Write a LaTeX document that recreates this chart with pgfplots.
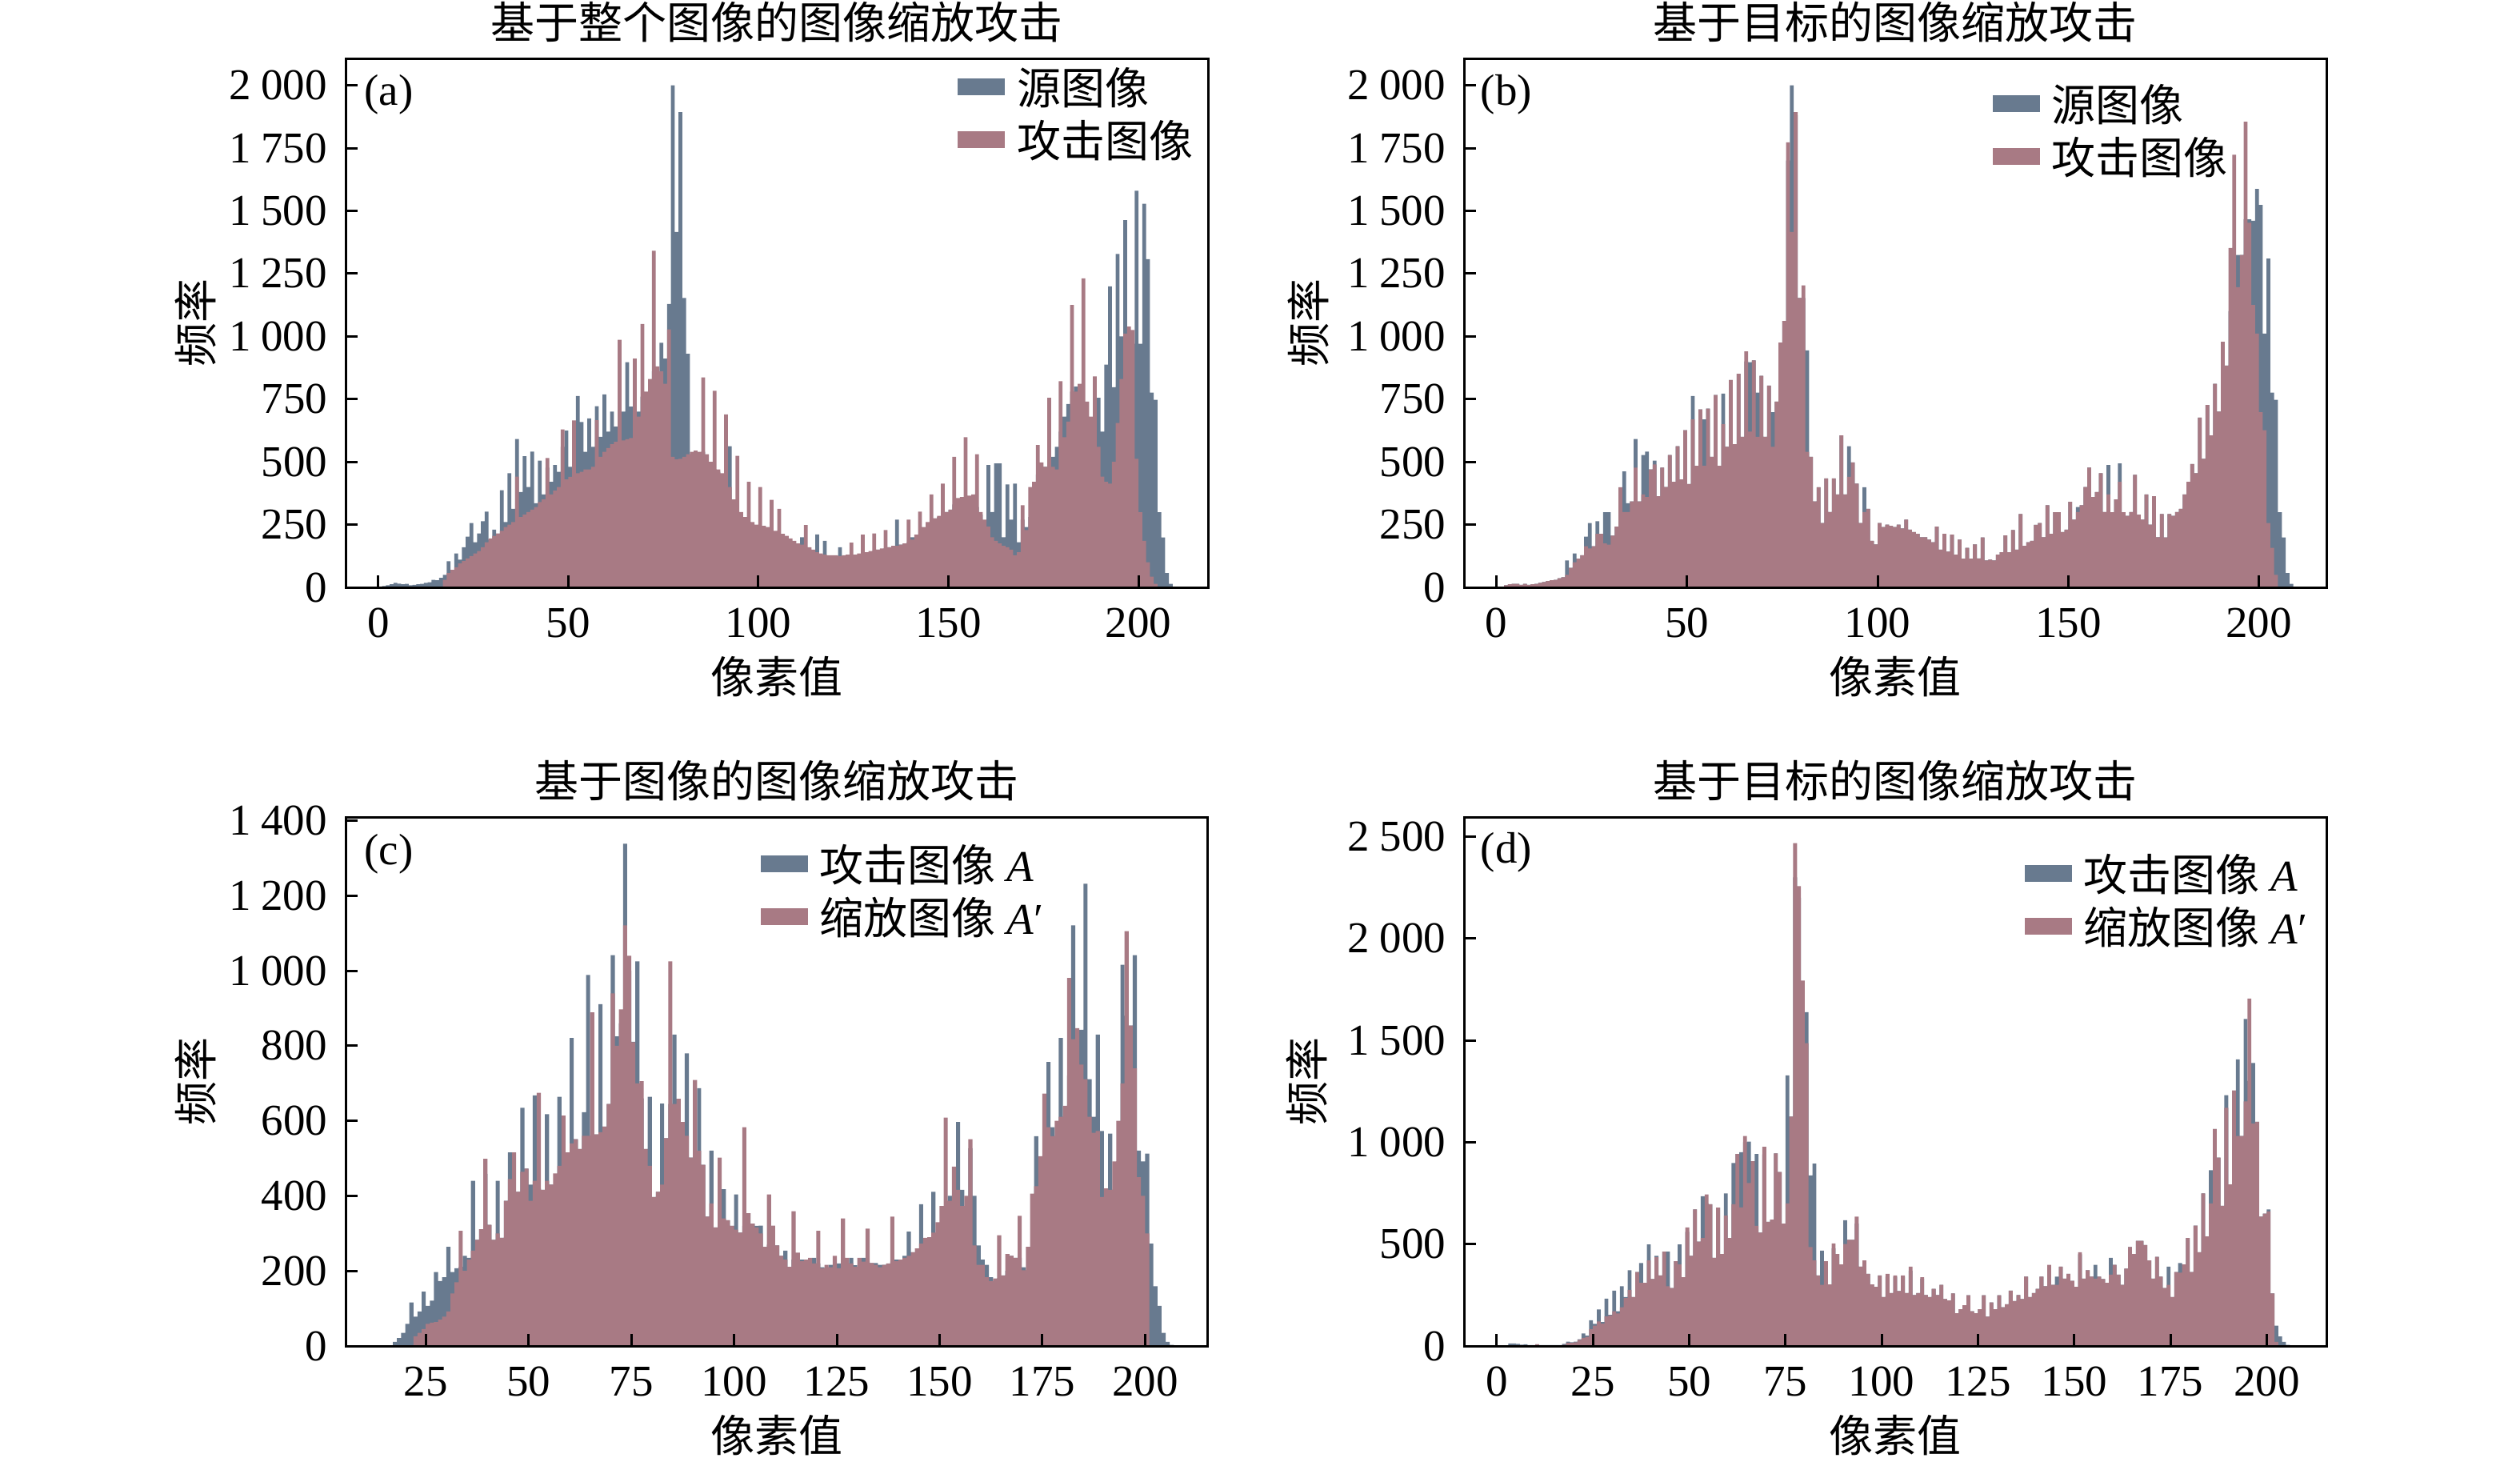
\documentclass[border=0pt]{standalone}
\usepackage{fontspec}
\setmainfont{Liberation Serif}
\newfontfamily\cjk{Noto Sans CJK SC}
\usepackage{pgfplots}
\pgfplotsset{compat=1.18}
\definecolor{cblue}{HTML}{687A8F}
\definecolor{cpink}{HTML}{A87A84}
\newcommand{\hist}[2]{\addplot[const plot mark left, fill=#1, draw=none] table[x expr=\coordindex, y index=0, header=false, row sep=\\] {#2} \closedcycle;}
\pgfplotsset{
  histax/.style={
    scale only axis, width=215.6pt, height=132.2pt,
    axis on top, tick align=inside, xtick pos=lower, ytick pos=left,
    major tick length=3pt,
    axis line style={line width=0.6pt},
    every tick/.style={black, line width=0.6pt},
    ymin=0, scaled y ticks=false,
    /pgf/number format/assume math mode=true,
    /pgf/number format/1000 sep={\hspace{0.22em}},
    yticklabel style={anchor=east, inner sep=0pt, xshift=-4.4pt},
    xticklabel style={anchor=north, inner sep=0pt, yshift=-5pt},
    title style={at={(0.5,1)}, anchor=center, yshift=3pt, inner sep=0pt},
    xlabel style={at={(axis description cs:0.5,0)}, anchor=center, yshift=-22.4pt},
    legend style={draw=none, fill=none, anchor=north west, inner sep=0pt, outer sep=0pt,
      column sep=3pt, row sep=2.2pt, nodes={inner sep=0pt, text height=8.5pt, text depth=2.5pt}},
    legend cell align=left,
    legend image code/.code={\fill[#1] (0pt,-0.7pt) rectangle (11.8pt,3.5pt);},
  }
}
\begin{document}
\begin{tikzpicture}[font=\fontsize{11pt}{13pt}\selectfont]
\path[use as bounding box] (0,0) rectangle (630pt,365.2pt);

% ---------------- (a)
\begin{axis}[histax, at={(86.4pt,218.4pt)}, anchor=south west,
  xmin=-8.6, xmax=218.3, ymax=2107,
  xtick={0,50,100,150,200}, ytick={0,250,500,750,1000,1250,1500,1750,2000},
  title={\cjk 基于整个图像的图像缩放攻击}, xlabel={\cjk 像素值}, ylabel={\cjk 频率},
  ylabel style={at={(axis description cs:-0.1744,0.5)}, anchor=center},
  legend style={at={(0.7097,0.978)}}]
\hist{cblue}{0\\5\\8\\12\\18\\15\\12\\14\\8\\10\\
12\\14\\18\\20\\30\\28\\38\\50\\104\\70\\
135\\110\\160\\202\\256\\180\\215\\263\\302\\190\\
230\\213\\387\\260\\455\\313\\591\\380\\522\\400\\
541\\335\\505\\370\\477\\420\\487\\460\\560\\624\\
480\\500\\762\\659\\540\\673\\560\\722\\600\\769\\
620\\700\\640\\849\\700\\897\\720\\776\\700\\760\\
760\\820\\860\\800\\974\\911\\1129\\2000\\1416\\1893\\
1153\\930\\520\\540\\520\\540\\500\\480\\470\\460\\
440\\420\\562\\330\\300\\290\\270\\260\\250\\240\\
240\\230\\225\\215\\210\\205\\195\\185\\175\\165\\
160\\200\\150\\140\\135\\211\\130\\185\\125\\125\\
120\\160\\120\\125\\125\\130\\130\\135\\140\\140\\
145\\150\\150\\155\\160\\165\\270\\170\\175\\180\\
200\\200\\210\\230\\250\\260\\270\\280\\290\\300\\
310\\330\\340\\350\\355\\350\\340\\320\\290\\260\\
487\\300\\494\\494\\200\\410\\270\\413\\180\\270\\
240\\280\\380\\450\\480\\480\\470\\520\\560\\620\\
680\\730\\780\\800\\780\\720\\650\\560\\500\\755\\
620\\887\\1199\\797\\1328\\1000\\1463\\980\\970\\1580\\
970\\1528\\1307\\776\\747\\299\\199\\57\\14\\0\\0\\}
\addlegendentry{\cjk 源图像}
\hist{cpink}{0\\0\\0\\0\\0\\0\\0\\0\\0\\0\\
0\\0\\0\\0\\0\\0\\0\\30\\57\\70\\
80\\95\\105\\115\\125\\135\\145\\160\\180\\195\\
205\\215\\225\\240\\250\\260\\441\\280\\290\\300\\
310\\320\\340\\350\\515\\370\\385\\400\\629\\430\\
440\\665\\455\\460\\470\\470\\480\\666\\520\\540\\
555\\570\\580\\986\\585\\590\\595\\911\\680\\1049\\
780\\830\\1341\\880\\860\\811\\1028\\520\\510\\512\\
520\\530\\540\\545\\540\\836\\530\\500\\783\\470\\
455\\689\\400\\350\\524\\300\\280\\420\\260\\250\\
400\\245\\240\\349\\225\\313\\213\\205\\195\\185\\
175\\170\\248\\160\\150\\140\\135\\130\\128\\128\\
128\\125\\128\\130\\178\\130\\135\\210\\140\\145\\
215\\150\\155\\228\\160\\165\\165\\170\\175\\270\\
190\\210\\302\\240\\260\\370\\275\\285\\413\\300\\
310\\520\\356\\360\\598\\365\\370\\530\\300\\270\\
242\\200\\185\\175\\165\\160\\150\\128\\140\\327\\
228\\400\\420\\567\\498\\480\\755\\480\\470\\821\\
598\\660\\1125\\780\\811\\1231\\740\\680\\840\\560\\
441\\420\\413\\500\\655\\830\\1011\\1039\\1025\\512\\
299\\185\\100\\43\\14\\0\\0\\0\\0\\0\\0\\}
\addlegendentry{\cjk 攻击图像}
\node at (rel axis cs:0.05,0.932) {(a)};
\end{axis}

% ---------------- (b)
\begin{axis}[histax, at={(366pt,218.4pt)}, anchor=south west,
  xmin=-8.5, xmax=217.7, ymax=2107,
  xtick={0,50,100,150,200}, ytick={0,250,500,750,1000,1250,1500,1750,2000},
  title={\cjk 基于目标的图像缩放攻击}, xlabel={\cjk 像素值}, ylabel={\cjk 频率},
  ylabel style={at={(axis description cs:-0.18,0.5)}, anchor=center},
  legend style={at={(0.613,0.946)}}]
\hist{cblue}{0\\3\\8\\12\\14\\14\\10\\14\\10\\12\\
14\\18\\21\\25\\28\\30\\36\\40\\107\\78\\
135\\114\\128\\202\\256\\164\\263\\213\\299\\299\\
206\\242\\380\\462\\335\\342\\591\\342\\527\\541\\
470\\505\\363\\477\\400\\527\\420\\562\\430\\626\\
412\\762\\484\\709\\669\\712\\520\\766\\484\\772\\
560\\826\\570\\851\\600\\900\\897\\904\\776\\843\\
600\\804\\698\\740\\975\\1061\\1700\\2000\\1880\\1153\\
1153\\944\\520\\342\\399\\256\\434\\300\\434\\370\\
605\\370\\562\\498\\413\\256\\399\\313\\185\\171\\
256\\240\\250\\245\\240\\250\\235\\270\\230\\220\\
213\\200\\200\\190\\180\\242\\150\\213\\142\\210\\
130\\190\\114\\157\\114\\171\\115\\199\\107\\110\\
107\\130\\140\\207\\140\\228\\150\\292\\165\\180\\
185\\249\\256\\200\\327\\213\\299\\299\\220\\230\\
341\\270\\320\\327\\400\\477\\360\\380\\455\\300\\
487\\299\\350\\494\\299\\285\\300\\448\\290\\270\\
370\\250\\363\\200\\292\\199\\292\\285\\300\\313\\
370\\420\\491\\455\\676\\512\\726\\605\\811\\700\\
978\\883\\1100\\1196\\1324\\1324\\1466\\1466\\1460\\1587\\
1523\\1011\\1310\\776\\747\\299\\199\\57\\14\\0\\0\\}
\addlegendentry{\cjk 源图像}
\hist{cpink}{0\\3\\8\\12\\14\\14\\10\\14\\10\\12\\
14\\18\\21\\25\\28\\30\\36\\40\\50\\78\\
100\\114\\128\\164\\155\\164\\213\\213\\175\\170\\
206\\242\\399\\300\\300\\342\\477\\342\\370\\360\\
470\\490\\363\\477\\400\\527\\420\\562\\430\\626\\
412\\669\\484\\709\\484\\712\\520\\766\\484\\650\\
560\\826\\570\\851\\600\\940\\620\\904\\600\\843\\
600\\804\\560\\740\\975\\1061\\1773\\1416\\1893\\1153\\
1203\\540\\520\\342\\399\\256\\434\\300\\434\\370\\
605\\370\\440\\498\\413\\256\\300\\313\\185\\171\\
256\\240\\250\\245\\240\\250\\235\\270\\230\\220\\
213\\200\\200\\190\\180\\242\\150\\213\\142\\210\\
130\\190\\114\\157\\114\\171\\115\\199\\107\\110\\
107\\130\\140\\207\\140\\228\\150\\292\\165\\180\\
185\\249\\256\\200\\327\\213\\299\\299\\220\\230\\
341\\270\\300\\327\\400\\477\\360\\380\\455\\300\\
370\\299\\350\\420\\299\\285\\300\\448\\290\\270\\
370\\250\\363\\200\\292\\199\\292\\285\\300\\313\\
370\\420\\491\\455\\676\\512\\726\\605\\811\\700\\
978\\883\\1352\\1723\\1196\\1324\\1855\\1452\\1125\\1011\\
698\\626\\256\\157\\50\\0\\0\\0\\0\\0\\0\\}
\addlegendentry{\cjk 攻击图像}
\node at (rel axis cs:0.049,0.932) {(b)};
\end{axis}

% ---------------- (c)
\begin{axis}[histax, at={(86.4pt,28.8pt)}, anchor=south west,
  xmin=5.5, xmax=215.3, ymax=1410,
  xtick={25,50,75,100,125,150,175,200}, ytick={0,200,400,600,800,1000,1200,1400},
  title={\cjk 基于图像的图像缩放攻击}, xlabel={\cjk 像素值}, ylabel={\cjk 频率},
  ylabel style={at={(axis description cs:-0.1744,0.5)}, anchor=center},
  legend style={at={(0.4814,0.942)}}]
\hist{cblue}{0\\0\\0\\0\\0\\0\\0\\0\\0\\0\\
0\\0\\0\\0\\0\\0\\0\\11\\21\\35\\
59\\116\\78\\92\\145\\107\\121\\197\\173\\183\\
264\\197\\207\\211\\240\\235\\440\\283\\311\\459\\
323\\283\\440\\288\\387\\516\\400\\411\\635\\473\\
430\\668\\420\\416\\618\\430\\349\\664\\480\\516\\
821\\551\\525\\623\\989\\560\\564\\911\\585\\645\\
1042\\825\\860\\1339\\1000\\811\\1025\\660\\525\\664\\
397\\411\\646\\554\\645\\830\\659\\597\\780\\502\\
480\\687\\483\\345\\521\\316\\360\\418\\335\\320\\
404\\302\\320\\354\\326\\320\\321\\264\\270\\250\\
268\\240\\254\\211\\230\\230\\230\\226\\230\\235\\
220\\210\\207\\216\\215\\220\\207\\220\\235\\215\\
211\\235\\225\\221\\221\\216\\216\\216\\225\\230\\
226\\240\\305\\250\\240\\378\\273\\288\\411\\300\\
302\\373\\400\\387\\597\\416\\373\\527\\400\\268\\
230\\216\\183\\173\\180\\188\\200\\240\\235\\235\\
210\\202\\264\\559\\426\\506\\757\\583\\559\\821\\
611\\721\\1121\\818\\843\\1232\\711\\611\\830\\573\\
397\\566\\416\\492\\1016\\880\\854\\1042\\521\\492\\
513\\273\\159\\107\\35\\11\\3\\0\\0\\0\\0\\}
\addlegendentry{{\cjk 攻击图像}~\textit{A}}
\hist{cpink}{0\\0\\0\\0\\0\\0\\0\\0\\0\\0\\
0\\0\\0\\0\\0\\0\\0\\0\\0\\0\\
0\\0\\26\\35\\45\\59\\62\\64\\70\\78\\
92\\140\\170\\307\\200\\230\\254\\283\\311\\499\\
323\\283\\300\\288\\387\\445\\516\\411\\464\\473\\
387\\440\\675\\416\\440\\430\\460\\480\\614\\516\\
540\\551\\525\\560\\560\\889\\564\\570\\585\\645\\
940\\800\\897\\1121\\1040\\810\\700\\706\\525\\480\\
397\\411\\430\\554\\1025\\645\\659\\597\\560\\502\\
709\\520\\483\\345\\380\\316\\502\\340\\335\\320\\
310\\302\\583\\354\\326\\316\\300\\264\\404\\321\\
268\\240\\230\\211\\359\\249\\226\\230\\235\\220\\
307\\207\\216\\210\\240\\207\\340\\235\\220\\211\\
235\\225\\313\\221\\216\\210\\216\\220\\345\\226\\
230\\235\\240\\250\\260\\273\\288\\290\\302\\330\\
373\\609\\387\\478\\416\\373\\400\\551\\268\\216\\
216\\183\\173\\180\\295\\188\\245\\240\\235\\347\\
202\\264\\406\\426\\506\\673\\583\\559\\600\\611\\
640\\981\\818\\847\\750\\711\\611\\568\\573\\397\\
420\\416\\492\\600\\700\\1106\\854\\740\\450\\400\\
300\\0\\0\\0\\0\\0\\0\\0\\0\\0\\0\\}
\addlegendentry{{\cjk 缩放图像}~\textit{A}′}
\node at (rel axis cs:0.05,0.930) {(c)};
\end{axis}

% ---------------- (d)
\begin{axis}[histax, at={(366pt,28.8pt)}, anchor=south west,
  xmin=-8.5, xmax=215.5, ymax=2596,
  xtick={0,25,50,75,100,125,150,175,200}, ytick={0,500,1000,1500,2000,2500},
  title={\cjk 基于目标的图像缩放攻击}, xlabel={\cjk 像素值}, ylabel={\cjk 频率},
  ylabel style={at={(axis description cs:-0.182,0.5)}, anchor=center},
  legend style={at={(0.650,0.925)}}]
\hist{cblue}{0\\0\\0\\12\\12\\10\\6\\8\\4\\4\\
8\\4\\4\\4\\4\\4\\4\\10\\21\\18\\
21\\33\\61\\51\\126\\109\\179\\117\\232\\153\\
272\\170\\293\\240\\372\\240\\363\\407\\310\\498\\
328\\442\\346\\463\\463\\284\\416\\498\\337\\560\\
442\\670\\512\\735\\700\\696\\433\\679\\451\\749\\
530\\898\\942\\951\\1000\\1003\\907\\942\\556\\940\\
609\\620\\945\\854\\600\\1328\\1126\\2300\\2200\\1750\\
1638\\837\\895\\346\\468\\416\\302\\480\\451\\400\\
617\\521\\521\\600\\389\\420\\354\\302\\290\\346\\
240\\340\\260\\340\\270\\340\\260\\370\\250\\260\\
330\\250\\240\\280\\250\\300\\230\\223\\258\\161\\
180\\200\\249\\170\\161\\180\\249\\144\\214\\180\\
249\\190\\205\\272\\220\\250\\230\\340\\240\\260\\
280\\340\\293\\390\\300\\340\\389\\330\\354\\320\\
290\\450\\330\\372\\340\\398\\340\\328\\310\\433\\
398\\350\\300\\380\\486\\451\\516\\516\\495\\420\\
330\\437\\340\\284\\389\\240\\363\\407\\400\\530\\
363\\591\\460\\749\\538\\863\\1065\\924\\688\\1231\\
793\\1200\\1407\\1030\\1605\\1300\\1389\\1100\\635\\650\\
670\\258\\100\\47\\20\\5\\0\\0\\0\\0\\0\\}
\addlegendentry{{\cjk 攻击图像}~\textit{A}}
\hist{cpink}{0\\0\\0\\0\\0\\0\\0\\0\\0\\0\\
8\\0\\0\\0\\0\\0\\0\\5\\15\\15\\
18\\30\\40\\45\\82\\100\\120\\110\\145\\150\\
170\\160\\190\\235\\275\\240\\363\\310\\310\\420\\
328\\435\\346\\463\\293\\284\\416\\400\\337\\582\\
442\\670\\512\\530\\744\\696\\433\\679\\451\\640\\
530\\696\\942\\680\\1030\\800\\907\\590\\556\\977\\
609\\620\\945\\854\\600\\700\\1126\\2468\\2257\\1793\\
1486\\486\\420\\346\\300\\416\\302\\503\\451\\400\\
500\\521\\521\\635\\389\\420\\354\\302\\290\\346\\
240\\354\\260\\346\\270\\346\\260\\389\\250\\260\\
337\\250\\240\\280\\250\\300\\230\\223\\258\\161\\
180\\200\\249\\170\\161\\180\\249\\144\\214\\180\\
249\\190\\205\\272\\220\\250\\230\\340\\240\\260\\
280\\340\\293\\398\\300\\300\\389\\330\\354\\320\\
290\\460\\330\\372\\340\\330\\340\\328\\310\\350\\
398\\350\\300\\380\\486\\451\\516\\516\\495\\420\\
330\\437\\340\\284\\300\\240\\363\\360\\400\\530\\
363\\591\\460\\749\\538\\700\\1065\\924\\688\\1169\\
793\\1254\\1030\\1030\\1200\\1705\\1091\\1100\\635\\650\\
660\\258\\20\\0\\0\\0\\0\\0\\0\\0\\0\\}
\addlegendentry{{\cjk 缩放图像}~\textit{A}′}
\node at (rel axis cs:0.049,0.933) {(d)};
\end{axis}
\end{tikzpicture}
\end{document}
